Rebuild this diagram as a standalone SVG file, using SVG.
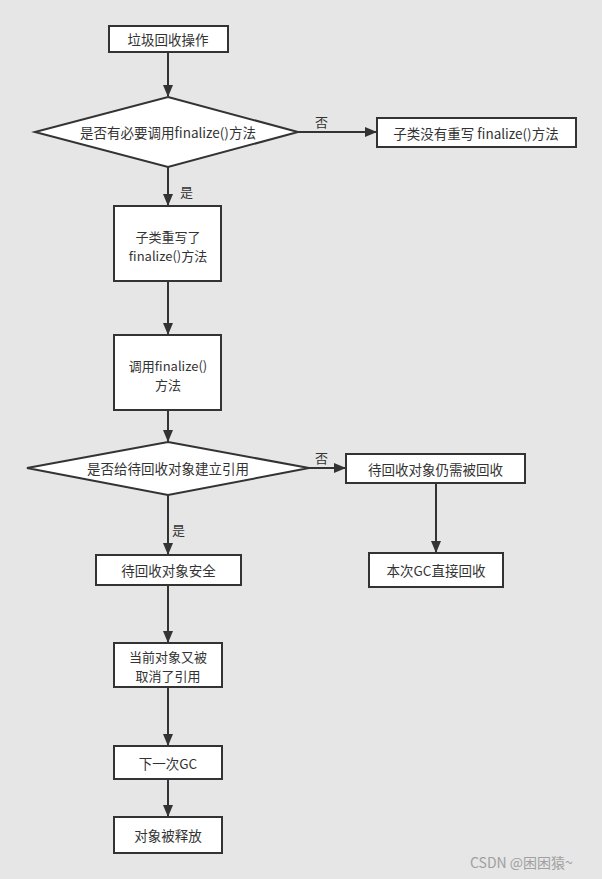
<svg xmlns="http://www.w3.org/2000/svg" width="602" height="879" viewBox="0 0 602 879">
<style>
.n{fill:#fff;stroke:#333;stroke-width:2}
.t{font-family:"Microsoft YaHei","Noto Sans CJK SC","Noto Sans",sans-serif;font-size:13.5px;fill:#333;text-anchor:middle;dominant-baseline:central}
.s{font-size:13px}
.e{stroke:#333;stroke-width:2;fill:none;marker-end:url(#a)}
.l{font-family:"Noto Sans CJK SC","Noto Sans",sans-serif;font-size:13px;fill:#333;dominant-baseline:central}
</style>
<defs>
<marker id="a" markerUnits="userSpaceOnUse" markerWidth="12" markerHeight="12" viewBox="0 0 12 12" refX="11" refY="6" orient="auto">
<path d="M0,1 L12,6 L0,11 Z" fill="#333"/>
</marker>
</defs>
<rect width="602" height="879" fill="#e6e6e6"/>
<g id="connectors">
<line class="e" x1="168" y1="52" x2="168" y2="96"/>
<line class="e" x1="298" y1="132" x2="376" y2="132"/>
<line class="e" x1="168" y1="167" x2="168" y2="205"/>
<line class="e" x1="168" y1="281" x2="168" y2="334"/>
<line class="e" x1="168" y1="410" x2="168" y2="441"/>
<line class="e" x1="309" y1="468" x2="345" y2="468"/>
<line class="e" x1="436" y1="483" x2="436" y2="552"/>
<line class="e" x1="168" y1="495" x2="168" y2="554"/>
<line class="e" x1="168" y1="585" x2="168" y2="642"/>
<line class="e" x1="168" y1="687" x2="168" y2="745"/>
<line class="e" x1="168" y1="779" x2="168" y2="816"/>
<text class="l" x="315" y="121">否</text>
<text class="l" x="180" y="191">是</text>
<text class="l" x="315" y="457">否</text>
<text class="l" x="172" y="529">是</text>
</g>
<g id="n1"><rect class="n" x="109" y="26" width="119" height="26"/><text class="t" x="168" y="39">垃圾回收操作</text></g>
<g id="n2"><polygon class="n" points="168,97 298,132 168,167 35,132"/><text class="t" x="168" y="132">是否有必要调用finalize()方法</text></g>
<g id="n3"><rect class="n" x="377" y="118" width="199" height="29"/><text class="t" x="476" y="132.5">子类没有重写 finalize()方法</text></g>
<g id="n4"><rect class="n" x="114" y="206" width="107" height="75"/><text class="t s" x="168" y="236">子类重写了</text><text class="t s" x="168" y="255">finalize()方法</text></g>
<g id="n5"><rect class="n" x="114" y="335" width="107" height="75"/><text class="t s" x="168" y="365">调用finalize()</text><text class="t s" x="168" y="384">方法</text></g>
<g id="n6"><polygon class="n" points="168,442 309,468 168,495 27,468"/><text class="t" x="168" y="468">是否给待回收对象建立引用</text></g>
<g id="n7"><rect class="n" x="346" y="454" width="179" height="29"/><text class="t" x="435.5" y="468.5">待回收对象仍需被回收</text></g>
<g id="n8"><rect class="n" x="369" y="553" width="134" height="34"/><text class="t" x="436" y="570">本次GC直接回收</text></g>
<g id="n9"><rect class="n" x="96" y="555" width="145" height="30"/><text class="t" x="168.5" y="570">待回收对象安全</text></g>
<g id="n10"><rect class="n" x="114" y="643" width="108" height="44"/><text class="t s" x="168" y="656">当前对象又被</text><text class="t s" x="168" y="675">取消了引用</text></g>
<g id="n11"><rect class="n" x="114" y="746" width="108" height="33"/><text class="t" x="168" y="762.5">下一次GC</text></g>
<g id="n12"><rect class="n" x="114" y="817" width="108" height="36"/><text class="t" x="168" y="835">对象被释放</text></g>
<text x="470" y="862" font-family="'Noto Sans CJK SC','Noto Sans',sans-serif" font-size="14" fill="#a0a0a0" dominant-baseline="central">CSDN @困困猿~</text>
</svg>
